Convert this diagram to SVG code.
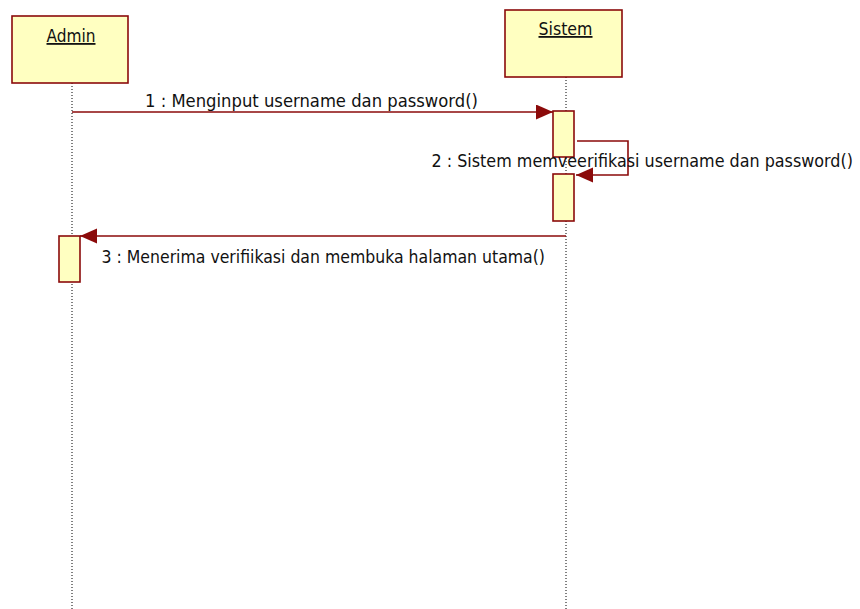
<svg xmlns="http://www.w3.org/2000/svg" width="860" height="609" viewBox="0 0 860 609">
  <style>
    .obj { fill: #FFFFC1; stroke: #8B0A0A; stroke-width: 1.6; }
    .act { fill: #FFFFC1; stroke: #8B0A0A; stroke-width: 1.6; }
    .life { stroke: #000; stroke-width: 1; stroke-dasharray: 1 2; fill: none; }
    .msg { stroke: #8B0A0A; stroke-width: 1.6; fill: none; }
    .head { fill: #8B0A0A; }
    text { font-family: "DejaVu Sans Condensed", "DejaVu Sans", "Liberation Sans", sans-serif; font-size: 18px; fill: #111; }
    .name { text-anchor: middle; text-decoration: underline; }
  </style>
  <defs>
    <marker id="arrow" markerUnits="userSpaceOnUse" markerWidth="18" markerHeight="16" refX="17" refY="7.5" orient="auto">
      <path class="head" d="M0,0 L17,7.5 L0,15 Z"/>
    </marker>
  </defs>

  <!-- lifelines -->
  <g id="lifelines">
    <line class="life" x1="72" y1="83" x2="72" y2="609"/>
    <line class="life" x1="566" y1="77" x2="566" y2="609"/>
  </g>

  <!-- participant: Admin -->
  <g id="admin">
    <rect class="obj" x="12" y="16" width="116" height="67"/>
    <text class="name" x="71" y="42" textLength="49" lengthAdjust="spacingAndGlyphs">Admin</text>
    <rect class="act" x="59" y="236" width="21" height="46"/>
  </g>

  <!-- participant: Sistem -->
  <g id="sistem">
    <rect class="obj" x="505" y="10" width="117" height="67"/>
    <text class="name" x="565.5" y="35" textLength="54" lengthAdjust="spacingAndGlyphs">Sistem</text>
    <rect class="act" x="553" y="111" width="21" height="46"/>
    <rect class="act" x="553" y="174" width="21" height="47"/>
  </g>

  <!-- messages -->
  <g id="connectors">
    <line class="msg" x1="72" y1="112" x2="553" y2="112" marker-end="url(#arrow)"/>
    <polyline class="msg" points="577,141 628,141 628,175 576,175" marker-end="url(#arrow)"/>
    <line class="msg" x1="566" y1="236" x2="80" y2="236" marker-end="url(#arrow)"/>
  </g>

  <g id="labels">
    <text x="145" y="106.5" textLength="333" lengthAdjust="spacingAndGlyphs">1 : Menginput username dan password()</text>
    <text x="431.5" y="166.5" textLength="421.5" lengthAdjust="spacingAndGlyphs">2 : Sistem memveerifikasi username dan password()</text>
    <text x="101.5" y="263" textLength="443.5" lengthAdjust="spacingAndGlyphs">3 : Menerima verifiikasi dan membuka halaman utama()</text>
  </g>
</svg>
